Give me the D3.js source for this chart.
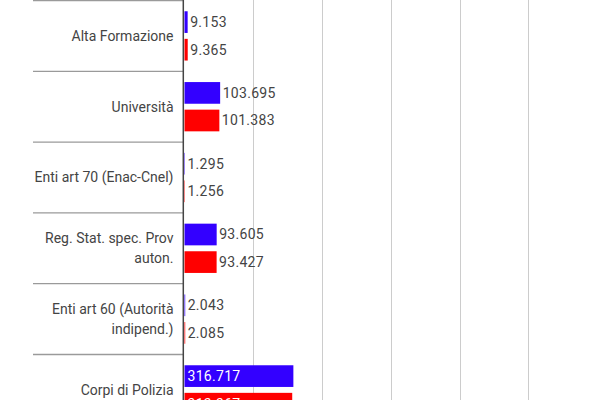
<!DOCTYPE html>
<html>
<head>
<meta charset="utf-8">
<script src="https://cdn.jsdelivr.net/npm/d3@7"></script>
<style>
  html, body { margin: 0; padding: 0; background: #fff; }
  svg { display: block; font-family: Roboto, "Noto Sans", sans-serif; }
</style>
</head>
<body>
<svg id="chart" width="600" height="400"></svg>
<script>
const categories = [
  "Alta Formazione",
  "Università",
  "Enti art 70 (Enac-Cnel)",
  "Reg. Stat. spec. Prov auton.",
  "Enti art 60 (Autorità indipend.)",
  "Corpi di Polizia"
];
const seriesNames = ["Serie A", "Serie B"];
const seriesA = [9153, 103695, 1295, 93605, 2043, 316717];
const seriesB = [9365, 101383, 1256, 93427, 2085, 313367];
const gridTicks = [200000, 400000, 600000, 800000, 1000000];
const colors = ["#3300ff", "#ff0000"];

const rows = categories.map((c, i) => ({ cat: c, values: [seriesA[i], seriesB[i]] }));

const svg = d3.select("#chart");
const fmt = d3.formatLocale({ decimal: ",", thousands: ".", grouping: [3], currency: ["€", ""] }).format(",d");

const x = d3.scaleLinear().domain([0, 1000000]).range([184.5, 528.25]);
const y0 = d3.scaleBand().domain(categories).range([0.5, 0.5 + 70.8 * categories.length]).padding(0);
const y1 = d3.scaleBand().domain(seriesNames).range([0, y0.bandwidth()]).paddingInner(0.214).paddingOuter(0.39);

const axisX = 183.3;

// grid lines
svg.append("g").selectAll("line").data(gridTicks).join("line")
  .attr("x1", d => Math.round(x(d)) + 0.5).attr("x2", d => Math.round(x(d)) + 0.5)
  .attr("y1", 0).attr("y2", 400)
  .attr("stroke", "#cccccc").attr("stroke-width", 1);

// category separators
const bounds = categories.map(c => y0(c)).concat([y0.range()[1]]);
svg.append("g").selectAll("line").data(bounds).join("line")
  .attr("x1", 33).attr("x2", axisX)
  .attr("y1", d => d).attr("y2", d => d)
  .attr("stroke", "#9a9a9a").attr("stroke-width", 1.3);

// bars
const groups = svg.append("g").selectAll("g").data(rows).join("g")
  .attr("transform", d => `translate(0,${y0(d.cat)})`);

const items = groups.selectAll("g.item")
  .data(d => d.values.map((v, j) => ({ v, s: seriesNames[j], j })))
  .join("g").attr("class", "item");

items.append("rect")
  .attr("x", x(0))
  .attr("y", d => y1(d.s))
  .attr("width", d => Math.max(0, x(d.v) - x(0)))
  .attr("height", y1.bandwidth())
  .attr("fill", d => colors[d.j]);

items.append("text")
  .attr("y", d => y1(d.s) + y1.bandwidth() / 2)
  .attr("dy", "0.35em")
  .attr("font-size", 14)
  .attr("letter-spacing", 0.3)
  .text(d => fmt(d.v))
  .each(function (d) {
    const t = d3.select(this);
    const w = this.getComputedTextLength();
    const bw = x(d.v) - x(0);
    if (bw > w + 8) {
      t.attr("x", x(0) + 3).attr("fill", "#ffffff");
    } else {
      t.attr("x", x(d.v) + 2.5).attr("fill", "#444444");
    }
  });

// axis line
svg.append("line")
  .attr("x1", axisX).attr("x2", axisX).attr("y1", 0).attr("y2", 400)
  .attr("stroke", "#444444").attr("stroke-width", 1.5);

// category labels with wrapping
const maxW = 150;
const labels = svg.append("g").selectAll("text").data(categories).join("text")
  .attr("text-anchor", "end")
  .attr("font-size", 14)
  .attr("fill", "#444444")
  .each(function (c) {
    const t = d3.select(this);
    const words = c.split(" ");
    const lines = [];
    let line = [];
    const probe = t.append("tspan");
    words.forEach(w => {
      const test = line.concat([w]).join(" ");
      probe.text(test);
      if (probe.node().getComputedTextLength() > maxW && line.length) {
        lines.push(line.join(" "));
        line = [w];
      } else {
        line.push(w);
      }
    });
    lines.push(line.join(" "));
    probe.remove();
    const cy = y0(c) + y0.bandwidth() / 2;
    const lh = 20;
    lines.forEach((l, k) => {
      t.append("tspan")
        .attr("x", 173.5)
        .attr("y", cy + (k - (lines.length - 1) / 2) * lh)
        .attr("dy", "0.35em")
        .text(l);
    });
  });
</script>
</body>
</html>
